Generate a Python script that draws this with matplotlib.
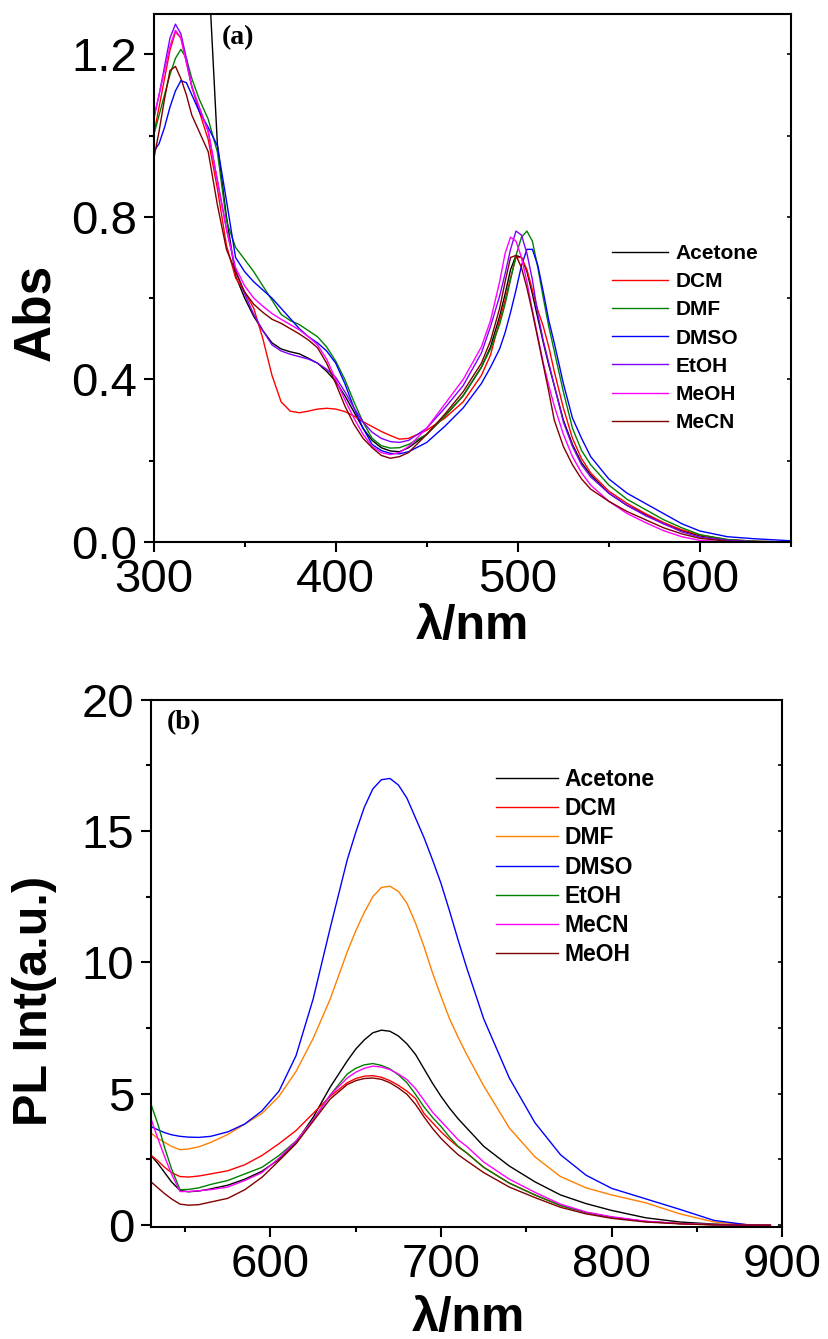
import numpy as np
import matplotlib
matplotlib.use('Agg')
import matplotlib.pyplot as plt
from matplotlib.ticker import MultipleLocator, FormatStrFormatter

plt.rcParams['font.family'] = ['Liberation Sans', 'DejaVu Sans']

# ---------------- (a) absorption ----------------
wl_abs = [300, 303, 306, 309, 312, 315, 318, 321, 325, 330, 335, 340, 345, 350, 355, 360, 365, 370,
          375, 380, 385, 390, 395, 400, 405, 410, 415, 420, 425, 430, 435, 440, 450, 460, 470, 480,
          485, 490, 493, 496, 499, 502, 505, 508, 511, 514, 517, 520, 525, 530, 535, 540, 550, 560,
          570, 580, 590, 600, 615, 630, 650]

abs_acetone = [3.6, 3.5, 3.4, 3.3, 3.2, 3.0, 2.75, 2.45, 2.0, 1.42, 0.98, 0.80, 0.655, 0.60, 0.555, 0.52,
               0.49, 0.475, 0.468, 0.463, 0.452, 0.44, 0.42, 0.395, 0.36, 0.32, 0.28, 0.25, 0.232, 0.224,
               0.222, 0.232, 0.265, 0.31, 0.36, 0.43, 0.48, 0.555, 0.61, 0.67, 0.705, 0.70, 0.665, 0.61,
               0.55, 0.49, 0.435, 0.385, 0.30, 0.24, 0.195, 0.165, 0.12, 0.09, 0.068, 0.045, 0.028,
               0.015, 0.005, 0.001, 0.0]
abs_dcm = [1.00, 1.07, 1.14, 1.21, 1.255, 1.24, 1.18, 1.12, 1.06, 0.99, 0.87, 0.73, 0.65, 0.615, 0.575,
           0.50, 0.41, 0.345, 0.322, 0.318, 0.322, 0.327, 0.329, 0.327, 0.321, 0.31, 0.296, 0.284, 0.272,
           0.262, 0.253, 0.255, 0.275, 0.305, 0.345, 0.41, 0.46, 0.545, 0.595, 0.65, 0.70, 0.70, 0.67,
           0.62, 0.57, 0.53, 0.48, 0.42, 0.33, 0.255, 0.205, 0.17, 0.125, 0.095, 0.07, 0.048, 0.03,
           0.017, 0.006, 0.002, 0.0]
abs_dmf = [1.00, 1.05, 1.10, 1.15, 1.19, 1.212, 1.19, 1.14, 1.09, 1.04, 0.96, 0.79, 0.725, 0.695, 0.665,
           0.63, 0.595, 0.56, 0.545, 0.535, 0.52, 0.505, 0.48, 0.445, 0.40, 0.345, 0.295, 0.255, 0.237,
           0.231, 0.232, 0.24, 0.265, 0.31, 0.36, 0.43, 0.475, 0.535, 0.585, 0.645, 0.705, 0.75, 0.765,
           0.74, 0.675, 0.60, 0.53, 0.47, 0.37, 0.28, 0.225, 0.19, 0.14, 0.105, 0.08, 0.055, 0.035,
           0.018, 0.006, 0.002, 0.0]
abs_dmso = [0.96, 0.98, 1.02, 1.07, 1.11, 1.135, 1.13, 1.10, 1.06, 1.02, 0.975, 0.84, 0.70, 0.665, 0.64,
            0.62, 0.60, 0.575, 0.55, 0.525, 0.505, 0.49, 0.47, 0.44, 0.39, 0.33, 0.28, 0.24, 0.225,
            0.218, 0.217, 0.222, 0.245, 0.285, 0.33, 0.39, 0.43, 0.475, 0.515, 0.565, 0.62, 0.68, 0.72,
            0.72, 0.68, 0.615, 0.545, 0.49, 0.39, 0.305, 0.255, 0.21, 0.155, 0.12, 0.095, 0.07, 0.045,
            0.027, 0.013, 0.008, 0.003]
abs_etoh = [1.04, 1.10, 1.17, 1.24, 1.274, 1.25, 1.19, 1.12, 1.07, 1.01, 0.89, 0.77, 0.67, 0.61, 0.56,
            0.52, 0.485, 0.47, 0.462, 0.456, 0.45, 0.44, 0.425, 0.405, 0.37, 0.33, 0.295, 0.27, 0.255,
            0.247, 0.245, 0.25, 0.28, 0.33, 0.385, 0.465, 0.53, 0.605, 0.66, 0.72, 0.765, 0.755, 0.71,
            0.645, 0.56, 0.495, 0.44, 0.385, 0.295, 0.235, 0.19, 0.16, 0.12, 0.09, 0.065, 0.045, 0.025,
            0.012, 0.004, 0.001, 0.0]
abs_meoh = [1.04, 1.10, 1.16, 1.22, 1.259, 1.24, 1.18, 1.12, 1.07, 1.01, 0.89, 0.77, 0.675, 0.63, 0.60,
            0.58, 0.562, 0.548, 0.535, 0.522, 0.505, 0.485, 0.45, 0.40, 0.35, 0.305, 0.265, 0.235, 0.22,
            0.215, 0.22, 0.235, 0.28, 0.34, 0.40, 0.48, 0.545, 0.64, 0.71, 0.75, 0.74, 0.70, 0.64, 0.57,
            0.505, 0.44, 0.385, 0.335, 0.265, 0.21, 0.17, 0.14, 0.10, 0.07, 0.048, 0.028, 0.013, 0.004,
            0.0, 0.0, 0.0]
abs_mecn = [0.94, 1.01, 1.09, 1.16, 1.17, 1.14, 1.10, 1.05, 1.01, 0.96, 0.83, 0.72, 0.665, 0.615, 0.585,
            0.565, 0.548, 0.538, 0.525, 0.512, 0.497, 0.478, 0.44, 0.39, 0.335, 0.29, 0.255, 0.232, 0.213,
            0.206, 0.21, 0.22, 0.265, 0.315, 0.37, 0.44, 0.495, 0.575, 0.64, 0.70, 0.705, 0.675, 0.625,
            0.565, 0.50, 0.435, 0.37, 0.30, 0.235, 0.19, 0.155, 0.13, 0.10, 0.075, 0.055, 0.035, 0.02,
            0.009, 0.002, 0.0, 0.0]

names_a = ['Acetone', 'DCM', 'DMF', 'DMSO', 'EtOH', 'MeOH', 'MeCN']
series_a = [abs_acetone, abs_dcm, abs_dmf, abs_dmso, abs_etoh, abs_meoh, abs_mecn]
colors_a = ['#000000', '#ff0000', '#008000', '#0000ff', '#8000ff', '#ff00ff', '#800000']

# ---------------- (b) photoluminescence ----------------
wl_pl = [530, 534, 538, 542, 547, 552, 558, 565, 575, 585, 595, 605, 615, 625, 635, 645, 650, 655,
         660, 665, 670, 675, 680, 685, 690, 695, 700, 705, 710, 715, 725, 740, 755, 770, 785, 800,
         820, 840, 860, 880, 893]

pl_acetone = [2.65, 2.35, 2.0, 1.65, 1.32, 1.27, 1.3, 1.38, 1.52, 1.75, 2.05, 2.5, 3.15, 4.1, 5.25, 6.25,
              6.7, 7.05, 7.32, 7.42, 7.38, 7.2, 6.9, 6.5, 5.95, 5.4, 4.9, 4.45, 4.05, 3.7, 3.0, 2.25,
              1.65, 1.15, 0.82, 0.56, 0.28, 0.12, 0.04, 0.01, 0.0]
pl_dcm = [2.66, 2.45, 2.2, 2.0, 1.85, 1.83, 1.87, 1.95, 2.07, 2.3, 2.65, 3.1, 3.6, 4.25, 4.9, 5.42, 5.58,
          5.67, 5.69, 5.63, 5.5, 5.32, 5.1, 4.82, 4.25, 3.9, 3.55, 3.25, 2.98, 2.75, 2.2, 1.6, 1.15,
          0.75, 0.48, 0.3, 0.14, 0.06, 0.02, 0.005, 0.0]
pl_dmf = [3.5, 3.3, 3.15, 3.0, 2.87, 2.9, 2.98, 3.15, 3.45, 3.85, 4.25, 4.9, 5.85, 7.1, 8.6, 10.4, 11.2,
          11.9, 12.5, 12.85, 12.9, 12.7, 12.25, 11.5, 10.6, 9.6, 8.7, 7.85, 7.15, 6.5, 5.3, 3.7, 2.6,
          1.85, 1.42, 1.15, 0.85, 0.43, 0.12, 0.02, 0.0]
pl_dmso = [3.75, 3.63, 3.52, 3.44, 3.38, 3.35, 3.34, 3.38, 3.55, 3.85, 4.35, 5.1, 6.45, 8.6, 11.3, 13.9,
           14.95, 15.9, 16.6, 16.95, 17.0, 16.75, 16.25, 15.5, 14.75, 13.9, 13.0, 11.95, 10.85, 9.8,
           7.85, 5.6, 3.9, 2.68, 1.9, 1.4, 1.0, 0.6, 0.18, 0.01, -0.03]
pl_etoh = [4.6, 3.85, 2.95, 2.15, 1.35, 1.36, 1.42, 1.55, 1.7, 1.95, 2.2, 2.65, 3.2, 4.0, 4.95, 5.75,
           5.97, 6.1, 6.15, 6.08, 5.95, 5.72, 5.42, 4.98, 4.5, 4.1, 3.75, 3.35, 3.0, 2.75, 2.2, 1.6,
           1.15, 0.75, 0.48, 0.3, 0.14, 0.06, 0.02, 0.005, 0.0]
pl_mecn = [4.05, 3.3, 2.6, 1.95, 1.28, 1.28, 1.31, 1.35, 1.45, 1.7, 2.0, 2.55, 3.2, 4.0, 4.95, 5.6, 5.82,
           5.97, 6.05, 6.02, 5.92, 5.75, 5.54, 5.2, 4.75, 4.3, 3.95, 3.6, 3.25, 3.0, 2.4, 1.75, 1.25,
           0.8, 0.5, 0.32, 0.15, 0.06, 0.02, 0.005, 0.0]
pl_meoh = [1.65, 1.42, 1.2, 1.0, 0.8, 0.76, 0.78, 0.88, 1.02, 1.35, 1.82, 2.45, 3.1, 3.95, 4.8, 5.35, 5.5,
           5.58, 5.6, 5.55, 5.42, 5.22, 4.98, 4.6, 4.12, 3.68, 3.3, 2.98, 2.68, 2.45, 2.0, 1.45, 1.05,
           0.68, 0.43, 0.26, 0.12, 0.05, 0.01, 0.002, 0.0]

names_b = ['Acetone', 'DCM', 'DMF', 'DMSO', 'EtOH', 'MeCN', 'MeOH']
series_b = [pl_acetone, pl_dcm, pl_dmf, pl_dmso, pl_etoh, pl_mecn, pl_meoh]
colors_b = ['#000000', '#ff0000', '#ff8000', '#0000ff', '#008000', '#ff00ff', '#800000']

W, H = 829, 1339
fig = plt.figure(figsize=(W / 100, H / 100), dpi=100)


def px_axes(l, t, r, b):
    return fig.add_axes([l / W, 1 - b / H, (r - l) / W, (b - t) / H])


def style(ax, xmaj, xmin, ymaj, ymin):
    for s in ax.spines.values():
        s.set_linewidth(1.5)
    ax.xaxis.set_major_locator(MultipleLocator(xmaj))
    ax.xaxis.set_minor_locator(MultipleLocator(xmin))
    ax.yaxis.set_major_locator(MultipleLocator(ymaj))
    ax.yaxis.set_minor_locator(MultipleLocator(ymin))
    ax.tick_params(which='both', direction='out', width=1.5, top=False, right=False)
    ax.tick_params(which='major', length=7.2, labelsize=34)
    ax.tick_params(which='minor', length=3.6)
    ax.tick_params(axis='x', which='major', pad=4)
    ax.tick_params(axis='y', which='major', pad=5)
    # small inward ticks on the right side
    axr = ax.twinx()
    axr.set_ylim(ax.get_ylim())
    axr.yaxis.set_major_locator(MultipleLocator(ymaj))
    axr.yaxis.set_minor_locator(MultipleLocator(ymin))
    axr.tick_params(which='both', direction='in', length=3, width=1.2, labelright=False)
    for s in axr.spines.values():
        s.set_visible(False)


# panel (a)
ax1 = px_axes(153.6, 13.6, 791, 542)
for name, vals, c in zip(names_a, series_a, colors_a):
    ax1.plot(wl_abs, vals, color=c, lw=1.0, label=name)
ax1.set_xlim(300, 650)
ax1.set_ylim(0, 1.3)
style(ax1, 100, 50, 0.4, 0.2)
ax1.yaxis.set_major_formatter(FormatStrFormatter('%.1f'))
ax1.legend(loc='upper left', bbox_to_anchor=(612 / W, 1 - 244 / H), bbox_transform=fig.transFigure,
           frameon=False, borderpad=0, borderaxespad=0, handlelength=2.7, handletextpad=0.35,
           labelspacing=0.44, prop={'weight': 'bold', 'size': 15})

# panel (b)
ax2 = px_axes(151, 699.6, 782.3, 1227)
for name, vals, c in zip(names_b, series_b, colors_b):
    ax2.plot(wl_pl, vals, color=c, lw=1.0, label=name)
ax2.set_xlim(530, 900)
ax2.set_ylim(-0.07, 20)
style(ax2, 100, 50, 5, 2.5)
ax2.legend(loc='upper left', bbox_to_anchor=(496 / W, 1 - 768 / H), bbox_transform=fig.transFigure,
           frameon=False, borderpad=0, borderaxespad=0, handlelength=2.7, handletextpad=0.3,
           labelspacing=0.27, prop={'weight': 'bold', 'size': 16.5})

# axis titles and panel tags
fig.text(36 / W, 1 - 312 / H, 'Abs', rotation=90, ha='center', va='center', fontsize=37, fontweight='bold')
fig.text(472 / W, 1 - 626 / H, 'λ/nm', ha='center', va='center', fontsize=35, fontweight='bold')
fig.text(35 / W, 1 - 1001 / H, 'PL Int(a.u.)', rotation=90, ha='center', va='center', fontsize=35,
         fontweight='bold')
fig.text(468 / W, 1 - 1318 / H, 'λ/nm', ha='center', va='center', fontsize=35, fontweight='bold')
fig.text(222 / W, 1 - 38 / H, '(a)', ha='left', va='center', fontsize=20, fontweight='bold',
         family='Liberation Serif')
fig.text(167 / W, 1 - 723 / H, '(b)', ha='left', va='center', fontsize=20, fontweight='bold',
         family='Liberation Serif')

fig.savefig('out.png', dpi=100)
